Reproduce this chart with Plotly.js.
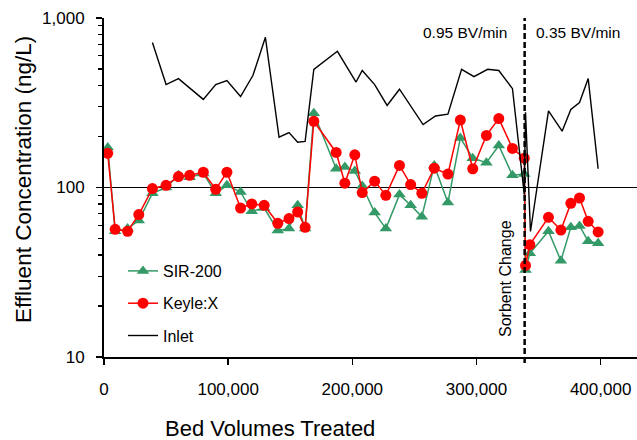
<!DOCTYPE html>
<html>
<head>
<meta charset="utf-8">
<script src="https://cdn.plot.ly/plotly-3.0.1.min.js"></script>
<style>
  html, body { margin: 0; padding: 0; background: #ffffff; }
  #chart { width: 637px; height: 440px; }
</style>
</head>
<body>
<div id="chart"></div>
<script>
// Bed volumes treated for effluent samples (SIR-200 and Keyle:X share sampling points)
const bedVolumes = [3000, 9000, 19000, 28000, 39000, 50000, 60000, 69000, 80000, 90000,
  99000, 110000, 119000, 129000, 140000, 149000, 156000, 162000, 169000, 187000,
  194000, 202000, 208000, 218000, 227000, 238000, 247000, 256000, 266000, 277000,
  287000, 297000, 308000, 318000, 329000, 338500, 339500, 343000, 358000, 368000,
  376000, 383000, 390000, 398000];

const sir200 = [172, 55.2, 57.2, 63.8, 92.4, 100, 118, 115, 121, 92.4,
  103, 94.1, 72.4, 75.7, 55.7, 57.2, 78.5, 57.2, 274, 129,
  132, 125, 102, 71.1, 57.2, 90.8, 78.5, 67.3, 135, 81.5,
  196, 149, 140, 177, 118, 120, 32.6, 40.9, 55.2, 37,
  58.2, 59.3, 48.2, 46.9];

const keyleX = [159, 56.7, 55.2, 69.2, 98.5, 103, 116, 118, 123, 97.6,
  123, 75.7, 80, 78.5, 61.5, 65.6, 71.7, 58.2, 246, 161,
  106, 156, 93.3, 109, 89.9, 135, 104, 92.4, 130, 120,
  250, 129, 203, 255, 170, 149, 34.7, 46, 66.7, 56.1,
  80.7, 86.7, 63.2, 54.7];

// Inlet samples
const inletBedVolumes = [39000, 50000, 60000, 69000, 80000, 90000, 99000, 110000, 120000, 130000,
  141000, 149000, 156000, 162000, 169000, 188000, 203000, 208000, 218000, 228000,
  238000, 257000, 267000, 277000, 288000, 298000, 309000, 318000, 329000, 338500,
  339500, 343500, 358000, 369000, 376000, 383000, 390000, 398000];
const inlet = [716, 405, 439, 386, 331, 405, 427, 344, 459, 769,
  198, 211, 185, 187, 498, 636, 419, 490, 405, 305,
  380, 235, 264, 271, 498, 451, 498, 490, 383, 91,
  278, 55, 283, 215, 289, 317, 439, 129];

const sorbentChangeBV = 338800;

const yTickVals = [10, 100, 1000];
const yTickText = ['10', '100', '1,000'];
const xTickVals = [0, 100000, 200000, 300000, 400000];
const xTickText = ['0', '100,000', '200,000', '300,000', '400,000'];

const FONT = 'Liberation Sans, Arial, Helvetica, sans-serif';

const traces = [
  {
    x: bedVolumes, y: sir200, name: 'SIR-200', type: 'scatter', mode: 'lines+markers',
    legendgroup: 'g1',
    line: { color: '#339966', width: 1.5 },
    marker: { symbol: 'triangle-up', size: 11, color: '#339966' }
  },
  {
    x: bedVolumes, y: keyleX, name: 'Keyle:X', type: 'scatter', mode: 'lines+markers',
    legendgroup: 'g2',
    line: { color: '#ff0000', width: 1.5 },
    marker: { symbol: 'circle', size: 11, color: '#ff0000' }
  },
  {
    x: inletBedVolumes, y: inlet, name: 'Inlet', type: 'scatter', mode: 'lines',
    legendgroup: 'g3',
    line: { color: '#000000', width: 1.4 }
  }
];

const layout = {
  width: 637, height: 440,
  margin: { l: 104, r: 0, t: 18, b: 83 },
  paper_bgcolor: '#ffffff', plot_bgcolor: '#ffffff',
  font: { family: FONT, color: '#000000', size: 17 },
  showlegend: true,
  legend: {
    x: (123 - 104) / 533, y: (357 - 254) / 339, xanchor: 'left', yanchor: 'top',
    bgcolor: 'rgba(255,255,255,0)', borderwidth: 0,
    font: { family: FONT, size: 16, color: '#000' },
    traceorder: 'grouped', tracegroupgap: 8.5
  },
  xaxis: {
    range: [0, 429300],
    tickmode: 'array', tickvals: xTickVals, ticktext: xTickText,
    ticks: 'outside', ticklen: 6, tickwidth: 1.5, tickcolor: '#000',
    showline: true, linecolor: '#000', linewidth: 2,
    showgrid: false, zeroline: false,
    tickfont: { family: FONT, size: 17 },
    ticklabelstandoff: 10
  },
  yaxis: {
    type: 'log', range: [1, 3],
    tickmode: 'array', tickvals: yTickVals, ticktext: yTickText,
    ticks: 'outside', ticklen: 6, tickwidth: 1.5, tickcolor: '#000',
    showline: true, linecolor: '#000', linewidth: 2,
    showgrid: true, gridcolor: '#000', gridwidth: 1.3,
    zeroline: false,
    minor: { ticks: 'outside', ticklen: 4, tickwidth: 1.2, tickcolor: '#000', dtick: 'D1', showgrid: false },
    tickfont: { family: FONT, size: 17 },
    ticklabelstandoff: 8
  },
  shapes: [
    {
      type: 'line', xref: 'x', yref: 'paper',
      x0: sorbentChangeBV, x1: sorbentChangeBV, y0: -0.018, y1: 1,
      line: { color: '#000', width: 2.5, dash: '6px,3px' }
    }
  ],
  annotations: [
    { text: '0.95 BV/min', xref: 'paper', yref: 'paper',
      x: (464.5 - 104) / 533, y: (357 - 32) / 339, xanchor: 'center', yanchor: 'middle',
      showarrow: false, font: { family: FONT, size: 15.5 } },
    { text: '0.35 BV/min', xref: 'paper', yref: 'paper',
      x: (578 - 104) / 533, y: (357 - 32) / 339, xanchor: 'center', yanchor: 'middle',
      showarrow: false, font: { family: FONT, size: 15.5 } },
    { text: 'Sorbent Change', xref: 'paper', yref: 'paper', textangle: -90,
      x: (505 - 104) / 533, y: (357 - 279) / 339, xanchor: 'center', yanchor: 'middle',
      showarrow: false, font: { family: FONT, size: 16 } },
    { text: 'Bed Volumes Treated', xref: 'paper', yref: 'paper',
      x: (270 - 104) / 533, y: (357 - 428.5) / 339, xanchor: 'center', yanchor: 'middle',
      showarrow: false, font: { family: FONT, size: 22 } },
    { text: 'Effluent Concentration (ng/L)', xref: 'paper', yref: 'paper', textangle: -90,
      x: (23 - 104) / 533, y: (357 - 180) / 339, xanchor: 'center', yanchor: 'middle',
      showarrow: false, font: { family: FONT, size: 22.5 } }
  ]
};

Plotly.newPlot('chart', traces, layout, { displayModeBar: false, staticPlot: true });
</script>
</body>
</html>
